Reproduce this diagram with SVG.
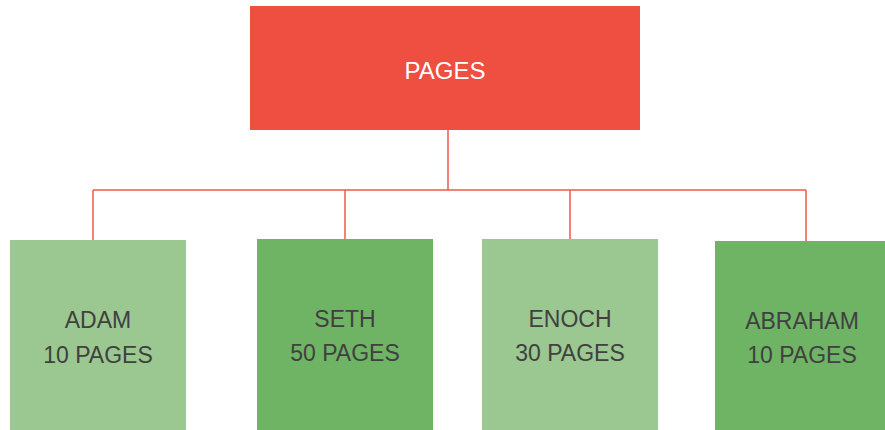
<svg xmlns="http://www.w3.org/2000/svg" width="885" height="430" viewBox="0 0 885 430">
<style>
.light{fill:#9BC890}
.dark{fill:#6FB465}
.lbl{font-family:"Liberation Sans","DejaVu Sans",sans-serif;font-size:23px;fill:#404040;text-anchor:middle}
.conn{stroke:#F05A4A;stroke-width:1.5;fill:none}
</style>
<rect width="885" height="430" fill="#ffffff"/>
<g id="connectors">
<path class="conn" d="M448 130 V190 M93 190 H806 M93 190 V240 M345 190 V239 M570 190 V239 M806 190 V241"/>
</g>
<g id="pages">
<rect x="250" y="6" width="390" height="124" fill="#EF4F40"/>
<text x="445" y="79" font-family="Liberation Sans, DejaVu Sans, sans-serif" font-size="24" fill="#ffffff" text-anchor="middle">PAGES</text>
</g>
<g id="adam">
<rect class="light" x="10" y="240" width="176" height="190"/>
<text class="lbl" x="98" y="328">ADAM</text>
<text class="lbl" x="98" y="363">10 PAGES</text>
</g>
<g id="seth">
<rect class="dark" x="257" y="239" width="176" height="191"/>
<text class="lbl" x="345" y="327">SETH</text>
<text class="lbl" x="345" y="361">50 PAGES</text>
</g>
<g id="enoch">
<rect class="light" x="482" y="239" width="176" height="191"/>
<text class="lbl" x="570" y="327">ENOCH</text>
<text class="lbl" x="570" y="361">30 PAGES</text>
</g>
<g id="abraham">
<rect class="dark" x="715" y="241" width="170" height="189"/>
<text class="lbl" x="802" y="329">ABRAHAM</text>
<text class="lbl" x="802" y="363">10 PAGES</text>
</g>
</svg>
